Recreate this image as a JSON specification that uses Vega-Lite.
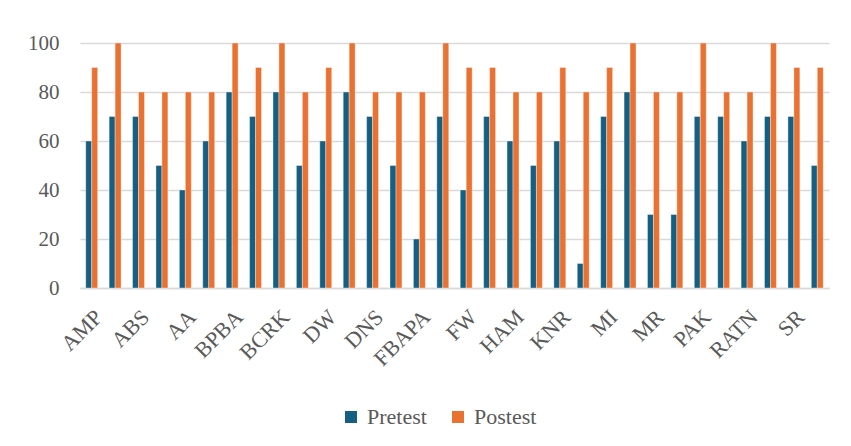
{
  "$schema": "https://vega.github.io/schema/vega-lite/v6.json",
  "width": 749,
  "height": 245,
  "autosize": {"type": "none"},
  "padding": {"left": 80, "top": 43, "right": 22, "bottom": 158},
  "background": "#ffffff",
  "config": {
    "font": "Times New Roman, Liberation Serif, DejaVu Serif, serif",
    "view": {"stroke": null},
    "axis": {"labelColor": "#595959", "labelFont": "Times New Roman, Liberation Serif, DejaVu Serif, serif"},
    "legend": {"labelColor": "#595959", "labelFont": "Times New Roman, Liberation Serif, DejaVu Serif, serif"}
  },
  "data": {
    "values": [
      {"n": 1, "code": "AMP", "Pretest": 60, "Postest": 90},
      {"n": 2, "code": "", "Pretest": 70, "Postest": 100},
      {"n": 3, "code": "ABS", "Pretest": 70, "Postest": 80},
      {"n": 4, "code": "", "Pretest": 50, "Postest": 80},
      {"n": 5, "code": "AA", "Pretest": 40, "Postest": 80},
      {"n": 6, "code": "", "Pretest": 60, "Postest": 80},
      {"n": 7, "code": "BPBA", "Pretest": 80, "Postest": 100},
      {"n": 8, "code": "", "Pretest": 70, "Postest": 90},
      {"n": 9, "code": "BCRK", "Pretest": 80, "Postest": 100},
      {"n": 10, "code": "", "Pretest": 50, "Postest": 80},
      {"n": 11, "code": "DW", "Pretest": 60, "Postest": 90},
      {"n": 12, "code": "", "Pretest": 80, "Postest": 100},
      {"n": 13, "code": "DNS", "Pretest": 70, "Postest": 80},
      {"n": 14, "code": "", "Pretest": 50, "Postest": 80},
      {"n": 15, "code": "FBAPA", "Pretest": 20, "Postest": 80},
      {"n": 16, "code": "", "Pretest": 70, "Postest": 100},
      {"n": 17, "code": "FW", "Pretest": 40, "Postest": 90},
      {"n": 18, "code": "", "Pretest": 70, "Postest": 90},
      {"n": 19, "code": "HAM", "Pretest": 60, "Postest": 80},
      {"n": 20, "code": "", "Pretest": 50, "Postest": 80},
      {"n": 21, "code": "KNR", "Pretest": 60, "Postest": 90},
      {"n": 22, "code": "", "Pretest": 10, "Postest": 80},
      {"n": 23, "code": "MI", "Pretest": 70, "Postest": 90},
      {"n": 24, "code": "", "Pretest": 80, "Postest": 100},
      {"n": 25, "code": "MR", "Pretest": 30, "Postest": 80},
      {"n": 26, "code": "", "Pretest": 30, "Postest": 80},
      {"n": 27, "code": "PAK", "Pretest": 70, "Postest": 100},
      {"n": 28, "code": "", "Pretest": 70, "Postest": 80},
      {"n": 29, "code": "RATN", "Pretest": 60, "Postest": 80},
      {"n": 30, "code": "", "Pretest": 70, "Postest": 100},
      {"n": 31, "code": "SR", "Pretest": 70, "Postest": 90},
      {"n": 32, "code": "", "Pretest": 50, "Postest": 90}
    ]
  },
  "transform": [
    {"fold": ["Pretest", "Postest"], "as": ["phase", "score"]}
  ],
  "mark": {"type": "bar", "stroke": "#ffffff", "strokeWidth": 0.6, "strokeOpacity": 0.6},
  "encoding": {
    "x": {
      "field": "n",
      "type": "ordinal",
      "scale": {"paddingInner": 0.49, "paddingOuter": 0.245},
      "axis": {
        "title": null,
        "ticks": false,
        "domainColor": "#d9d9d9",
        "domainWidth": 1.3,
        "labelAngle": -45,
        "labelFontSize": 22,
        "labelPadding": 18,
        "labelExpr": "['AMP','','ABS','','AA','','BPBA','','BCRK','','DW','','DNS','','FBAPA','','FW','','HAM','','KNR','','MI','','MR','','PAK','','RATN','','SR',''][datum.value - 1]"
      }
    },
    "xOffset": {
      "field": "phase",
      "type": "nominal",
      "sort": ["Pretest", "Postest"],
      "scale": {"paddingInner": 0, "paddingOuter": 0}
    },
    "y": {
      "field": "score",
      "type": "quantitative",
      "scale": {"domain": [0, 100], "nice": false},
      "axis": {
        "title": null,
        "values": [0, 20, 40, 60, 80, 100],
        "ticks": false,
        "domain": false,
        "gridColor": "#d9d9d9",
        "gridWidth": 1.3,
        "labelFontSize": 21,
        "labelPadding": 21
      }
    },
    "color": {
      "field": "phase",
      "type": "nominal",
      "sort": ["Pretest", "Postest"],
      "scale": {"domain": ["Pretest", "Postest"], "range": ["#156082", "#E97132"]},
      "legend": {
        "title": null,
        "orient": "none",
        "direction": "horizontal",
        "legendX": 260,
        "legendY": 363,
        "symbolType": "square",
        "symbolSize": 144,
        "symbolStrokeWidth": 0,
        "labelFontSize": 22,
        "labelOffset": 5,
        "columnPadding": 20
      }
    }
  }
}
